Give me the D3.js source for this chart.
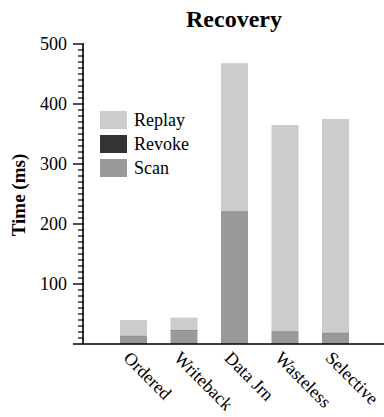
<!DOCTYPE html>
<html>
<head>
<meta charset="utf-8">
<script src="https://cdn.jsdelivr.net/npm/d3@7"></script>
<style>
  html, body { margin: 0; padding: 0; background: #fff; }
  svg { display: block; font-family: "Liberation Serif", "Times New Roman", serif; }
</style>
</head>
<body>
<svg id="chart" width="384" height="417"></svg>
<script>
// Recovery time per journaling mode, split into phases (ms)
const categories = ["Ordered", "Writeback", "Data Jrn", "Wasteless", "Selective"];
const scanValues   = [13, 22, 220, 20, 18];
const revokeValues = [1, 1, 1, 1, 1];
const replayValues = [26, 21, 247, 344, 356];
const seriesNames  = ["Scan", "Revoke", "Replay"];
const seriesColors = ["#999999", "#333333", "#cccccc"];
const yTicks = [100, 200, 300, 400, 500];
const legendOrder = ["Replay", "Revoke", "Scan"];

const svg = d3.select("#chart");
const axisX = 83, baseY = 344;

const rows = categories.map((c, i) => ({
  cat: c, idx: i + 1,
  Scan: scanValues[i], Revoke: revokeValues[i], Replay: replayValues[i]
}));
const stacked = d3.stack().keys(seriesNames)(rows);

const x = d3.scaleLinear().domain([0, 6]).range([axisX, 386]);
const y = d3.scaleLinear().domain([0, 500]).range([baseY, 44]);
const color = d3.scaleOrdinal().domain(seriesNames).range(seriesColors);
const barW = 27;

// stacked bars
svg.append("g").selectAll("g").data(stacked).join("g")
  .attr("fill", d => color(d.key))
  .selectAll("rect").data(d => d).join("rect")
  .attr("x", d => x(d.data.idx) - barW / 2)
  .attr("width", barW)
  .attr("y", d => y(d[1]))
  .attr("height", d => y(d[0]) - y(d[1]));

// y axis: major ticks with labels, minor ticks every 10
const yAxis = svg.append("g").attr("transform", `translate(${axisX},0)`);
yAxis.append("line").attr("x1", 0).attr("x2", 0).attr("y1", y(500)).attr("y2", baseY)
  .attr("stroke", "#000").attr("stroke-width", 1.6);
const minor = d3.range(10, 500, 10).filter(v => v % 100 !== 0);
yAxis.selectAll("line.minor").data(minor).join("line").attr("class", "minor")
  .attr("x1", -5).attr("x2", 1).attr("y1", d => y(d)).attr("y2", d => y(d))
  .attr("stroke", "#000").attr("stroke-width", 1.2);
yAxis.selectAll("line.major").data(yTicks).join("line").attr("class", "major")
  .attr("x1", -10).attr("x2", 1).attr("y1", d => y(d)).attr("y2", d => y(d))
  .attr("stroke", "#000").attr("stroke-width", 1.4);
yAxis.selectAll("text").data(yTicks).join("text")
  .attr("x", -16).attr("y", d => y(d)).attr("dy", "0.32em")
  .attr("text-anchor", "end").attr("font-size", 18).text(d => d);

// x axis baseline
svg.append("line").attr("x1", 73).attr("x2", 384).attr("y1", baseY).attr("y2", baseY)
  .attr("stroke", "#000").attr("stroke-width", 1.6);

// rotated category labels
svg.append("g").selectAll("text").data(rows).join("text")
  .attr("transform", d => `translate(${x(d.idx) - 11},${baseY + 15}) rotate(45)`)
  .attr("font-size", 18).text(d => d.cat);

// title and axis label
svg.append("text").attr("x", 234).attr("y", 27).attr("text-anchor", "middle")
  .attr("font-size", 24).attr("font-weight", "bold").text("Recovery");
svg.append("text").attr("transform", "translate(25,195) rotate(-90)")
  .attr("text-anchor", "middle").attr("font-size", 19).attr("font-weight", "bold")
  .text("Time (ms)");

// legend
const lg = svg.append("g").selectAll("g").data(legendOrder).join("g")
  .attr("transform", (d, i) => `translate(100,${111 + i * 24})`);
lg.append("rect").attr("width", 27).attr("height", 18).attr("fill", d => color(d));
lg.append("text").attr("x", 34).attr("y", 15).attr("font-size", 18).text(d => d);
</script>
</body>
</html>
